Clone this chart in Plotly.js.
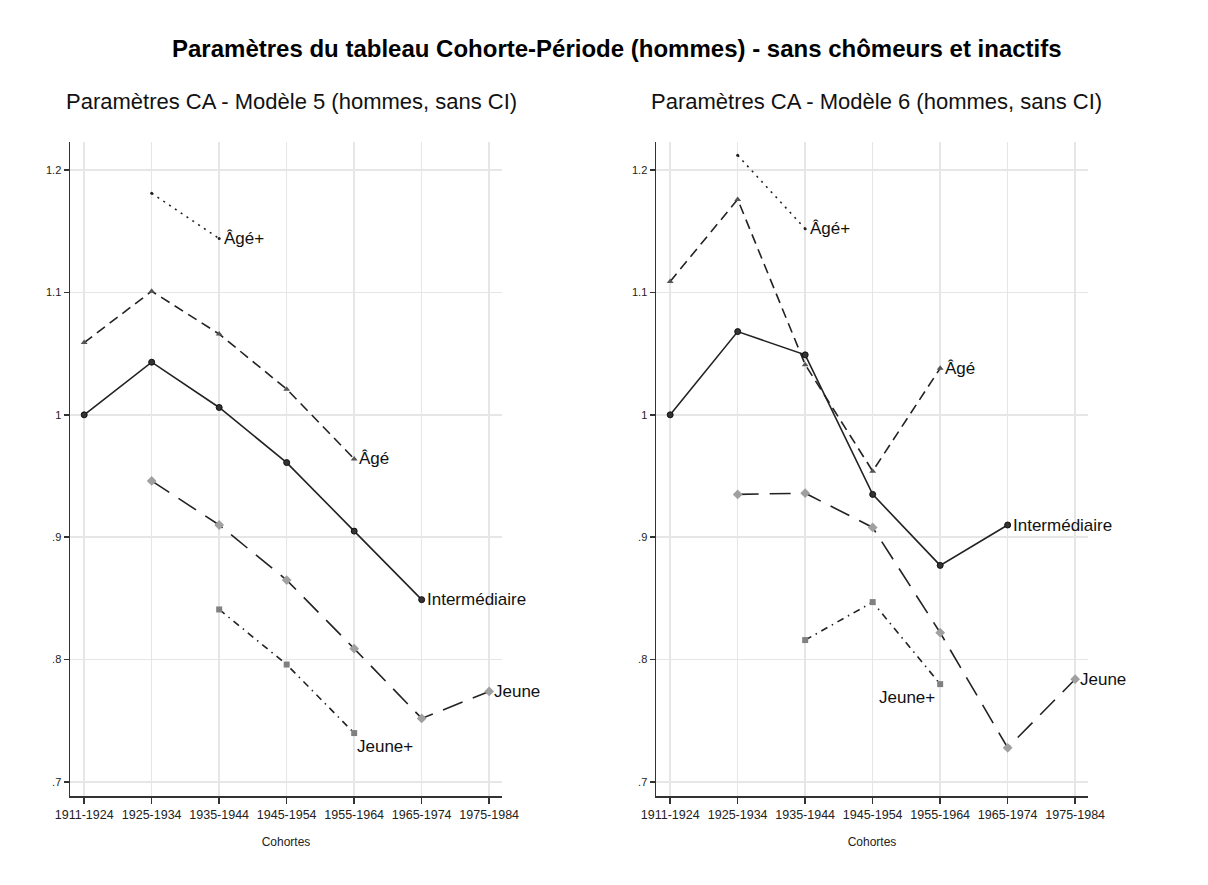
<!DOCTYPE html>
<html>
<head>
<meta charset="utf-8">
<script src="https://cdn.plot.ly/plotly-3.0.1.min.js"></script>
<style>html,body{margin:0;padding:0;background:#fff;}#chart{width:1208px;height:885px;}</style>
</head>
<body>
<div id="chart"></div>
<script>
// ---- Data ----
const cohorts = ["1911-1924","1925-1934","1935-1944","1945-1954","1955-1964","1965-1974","1975-1984"];

// Modèle 5
const m5_intermediaire_x = ["1911-1924","1925-1934","1935-1944","1945-1954","1955-1964","1965-1974"];
const m5_intermediaire_y = [1.000, 1.043, 1.006, 0.961, 0.905, 0.849];
const m5_age_x = ["1911-1924","1925-1934","1935-1944","1945-1954","1955-1964"];
const m5_age_y = [1.059, 1.101, 1.066, 1.021, 0.964];
const m5_ageplus_x = ["1925-1934","1935-1944"];
const m5_ageplus_y = [1.181, 1.144];
const m5_jeune_x = ["1925-1934","1935-1944","1945-1954","1955-1964","1965-1974","1975-1984"];
const m5_jeune_y = [0.946, 0.910, 0.865, 0.809, 0.752, 0.774];
const m5_jeuneplus_x = ["1935-1944","1945-1954","1955-1964"];
const m5_jeuneplus_y = [0.841, 0.796, 0.740];

// Modèle 6
const m6_intermediaire_x = ["1911-1924","1925-1934","1935-1944","1945-1954","1955-1964","1965-1974"];
const m6_intermediaire_y = [1.000, 1.068, 1.049, 0.935, 0.877, 0.910];
const m6_age_x = ["1911-1924","1925-1934","1935-1944","1945-1954","1955-1964"];
const m6_age_y = [1.109, 1.176, 1.041, 0.954, 1.038];
const m6_ageplus_x = ["1925-1934","1935-1944"];
const m6_ageplus_y = [1.212, 1.152];
const m6_jeune_x = ["1925-1934","1935-1944","1945-1954","1955-1964","1965-1974","1975-1984"];
const m6_jeune_y = [0.935, 0.936, 0.908, 0.822, 0.728, 0.784];
const m6_jeuneplus_x = ["1935-1944","1945-1954","1955-1964"];
const m6_jeuneplus_y = [0.816, 0.847, 0.780];

const yTickVals = [0.7, 0.8, 0.9, 1.0, 1.1, 1.2];
const yTickText = [".7", ".8", ".9", "1", "1.1", "1.2"];

const mainTitle = "Paramètres du tableau Cohorte-Période (hommes) - sans chômeurs et inactifs";
const subTitle5 = "Paramètres CA - Modèle 5 (hommes, sans CI)";
const subTitle6 = "Paramètres CA - Modèle 6 (hommes, sans CI)";
const xTitle = "Cohortes";

// ---- Styles ----
const FONT = "Liberation Sans, Arial, Helvetica, sans-serif";
const styles = {
  inter:  {line:{color:"#222", width:1.6, dash:"solid"}, marker:{symbol:"circle", size:6, color:"#333", line:{color:"#111", width:1}}},
  age:    {line:{color:"#222", width:1.6, dash:"10px,6px"}, marker:{symbol:"triangle-up", size:6, color:"#555", line:{width:0}}},
  agep:   {line:{color:"#222", width:1.6, dash:"2px,5px"}, marker:{symbol:"circle", size:3, color:"#222", line:{width:0}}},
  jeune:  {line:{color:"#222", width:1.6, dash:"21px,11px"}, marker:{symbol:"diamond", size:7.5, color:"#a0a0a0", line:{width:0}}},
  jeunep: {line:{color:"#222", width:1.6, dash:"7px,5px,1.5px,5px"}, marker:{symbol:"square", size:6, color:"#808080", line:{width:0}}}
};

function tr(x, y, st, xa, ya) {
  return {x:x, y:y, type:"scatter", mode:"lines+markers", line:st.line, marker:st.marker,
          xaxis:xa, yaxis:ya, showlegend:false, hoverinfo:"x+y"};
}

const traces = [
  tr(m5_ageplus_x, m5_ageplus_y, styles.agep, "x", "y"),
  tr(m5_age_x, m5_age_y, styles.age, "x", "y"),
  tr(m5_intermediaire_x, m5_intermediaire_y, styles.inter, "x", "y"),
  tr(m5_jeune_x, m5_jeune_y, styles.jeune, "x", "y"),
  tr(m5_jeuneplus_x, m5_jeuneplus_y, styles.jeunep, "x", "y"),
  tr(m6_ageplus_x, m6_ageplus_y, styles.agep, "x2", "y2"),
  tr(m6_age_x, m6_age_y, styles.age, "x2", "y2"),
  tr(m6_intermediaire_x, m6_intermediaire_y, styles.inter, "x2", "y2"),
  tr(m6_jeune_x, m6_jeune_y, styles.jeune, "x2", "y2"),
  tr(m6_jeuneplus_x, m6_jeuneplus_y, styles.jeunep, "x2", "y2")
];

function last(a){ return a[a.length-1]; }
function lab(text, x, y, xref, yref, opts) {
  return Object.assign({text:text, x:x, y:y, xref:xref, yref:yref, showarrow:false,
    xanchor:"left", yanchor:"middle", xshift:3, font:{family:FONT, size:17, color:"#111"}}, opts||{});
}

const annotations = [
  lab("Âgé+", last(m5_ageplus_x), last(m5_ageplus_y), "x", "y"),
  lab("Âgé", last(m5_age_x), last(m5_age_y), "x", "y"),
  lab("Intermédiaire", last(m5_intermediaire_x), last(m5_intermediaire_y), "x", "y"),
  lab("Jeune", last(m5_jeune_x), last(m5_jeune_y), "x", "y"),
  lab("Jeune+", last(m5_jeuneplus_x), last(m5_jeuneplus_y), "x", "y", {yanchor:"top", yshift:-2, xshift:1}),
  lab("Âgé+", last(m6_ageplus_x), last(m6_ageplus_y), "x2", "y2"),
  lab("Âgé", last(m6_age_x), last(m6_age_y), "x2", "y2"),
  lab("Intermédiaire", last(m6_intermediaire_x), last(m6_intermediaire_y), "x2", "y2"),
  lab("Jeune", last(m6_jeune_x), last(m6_jeune_y), "x2", "y2"),
  lab("Jeune+", last(m6_jeuneplus_x), last(m6_jeuneplus_y), "x2", "y2", {xanchor:"right", yanchor:"top", yshift:-2, xshift:-3}),
  {text:"<b>"+mainTitle+"</b>", xref:"paper", yref:"paper", x:617/1208, y:(885-48)/885, xanchor:"center", yanchor:"middle",
   showarrow:false, font:{family:FONT, size:24, color:"#000"}},
  {text:subTitle5, xref:"paper", yref:"paper", x:64/1208, y:(885-101)/885, xanchor:"left", yanchor:"middle",
   showarrow:false, font:{family:FONT, size:22, color:"#111"}},
  {text:subTitle6, xref:"paper", yref:"paper", x:649/1208, y:(885-101)/885, xanchor:"left", yanchor:"middle",
   showarrow:false, font:{family:FONT, size:22, color:"#111"}}
];

function xax(domain, anchor) {
  return {domain:domain, anchor:anchor, type:"category", categoryorder:"array", categoryarray:cohorts,
    range:[-0.21, 6.19], showgrid:true, gridcolor:"#e6e6e6", gridwidth:1.5,
    showline:true, linecolor:"#333", linewidth:1.5, ticks:"outside", ticklen:6, tickcolor:"#333", tickwidth:1.5,
    tickfont:{family:FONT, size:12.5, color:"#222"}, zeroline:false,
    title:{text:xTitle, font:{family:FONT, size:12, color:"#222"}, standoff:17}};
}
function yax(anchor) {
  return {domain:[(885-796)/885, (885-142)/885], anchor:anchor, range:[0.6886, 1.2229],
    tickvals:yTickVals, ticktext:yTickText, showgrid:true, gridcolor:"#e6e6e6", gridwidth:1.5,
    showline:true, linecolor:"#333", linewidth:1.5, ticks:"outside", ticklen:5, tickcolor:"#333", tickwidth:1.5,
    tickfont:{family:FONT, size:11, color:"#222"}, zeroline:false};
}

const layout = {
  width:1208, height:885, paper_bgcolor:"#fff", plot_bgcolor:"#fff",
  margin:{l:0, r:0, t:0, b:0},
  showlegend:false,
  xaxis: xax([70/1208, 502/1208], "y"),
  yaxis: yax("x"),
  xaxis2: xax([656/1208, 1088/1208], "y2"),
  yaxis2: yax("x2"),
  annotations: annotations
};

Plotly.newPlot("chart", traces, layout, {displayModeBar:false, staticPlot:true});
</script>
</body>
</html>
